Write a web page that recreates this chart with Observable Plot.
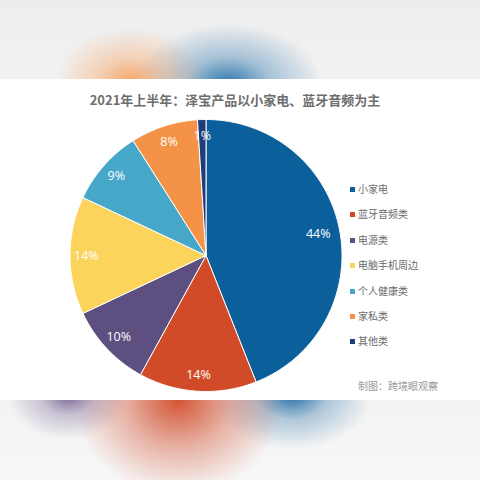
<!DOCTYPE html>
<html>
<head>
<meta charset="utf-8">
<script src="https://cdn.jsdelivr.net/npm/d3@7"></script>
<script src="https://cdn.jsdelivr.net/npm/@observablehq/plot@0.6"></script>
<style>
  html, body { margin: 0; padding: 0; }
  body { width: 480px; height: 480px; overflow: hidden; font-family: "Noto Sans CJK SC", "Noto Sans", sans-serif; }
  #wrap { position: relative; width: 480px; height: 480px; background: #f1f1f1; }
  #top { position: absolute; left: 0; top: 0; width: 480px; height: 79px;
    background:
      radial-gradient(ellipse 75px 55px at 130px 82px, rgba(246,152,80,0.85), rgba(246,152,80,0.35) 45%, rgba(246,152,80,0) 100%),
      radial-gradient(ellipse 95px 60px at 228px 84px, rgba(25,105,165,0.9), rgba(25,105,165,0.35) 45%, rgba(25,105,165,0) 100%),
      linear-gradient(#ededed, #f2f2f2);
  }
  #bottom { position: absolute; left: 0; top: 400px; width: 480px; height: 80px;
    background:
      radial-gradient(ellipse 60px 45px at 68px -5px, rgba(100,80,135,0.85), rgba(100,80,135,0.3) 45%, rgba(100,80,135,0) 100%),
      radial-gradient(ellipse 105px 95px at 178px 0px, rgba(210,76,42,0.95), rgba(210,76,42,0.4) 50%, rgba(210,76,42,0) 100%),
      radial-gradient(ellipse 80px 55px at 292px -5px, rgba(18,98,158,0.9), rgba(18,98,158,0.3) 45%, rgba(18,98,158,0) 100%),
      linear-gradient(#f3f3f3, #f7f7f7);
  }
  #card { position: absolute; left: 0; top: 79px; width: 480px; height: 321px; background: #ffffff; }
  #title { position: absolute; left: 0; top: 12px; width: 470px; text-align: center;
    font-size: 13px; font-weight: bold; color: #6e6e6e; line-height: 18px; }
  #chart { position: absolute; left: 0; top: 0; }
  #legend { position: absolute; left: 350px; top: 103px; }
  .row { position: absolute; left: 0; height: 14px; white-space: nowrap; font-size: 10px; color: #6a6a6a; line-height: 14px; }
  .sw { position: absolute; left: 0; top: 5px; width: 5px; height: 5px; }
  .lb { position: absolute; left: 8px; top: 0; }
  #caption { position: absolute; left: 358px; top: 300px; font-size: 10px; color: #9a9a9a; line-height: 14px; white-space: nowrap; }
</style>
</head>
<body>
<div id="wrap">
  <div id="top"></div>
  <div id="bottom"></div>
  <div id="card">
    <div id="chart"></div>
    <div id="title"></div>
    <div id="legend"></div>
    <div id="caption"></div>
  </div>
</div>
<script>
const titleText = "2021年上半年：泽宝产品以小家电、蓝牙音频为主";
const captionText = "制图：跨境眼观察";
const categories = ["小家电", "蓝牙音频类", "电源类", "电脑手机周边", "个人健康类", "家私类", "其他类"];
const values = [44, 14, 10, 14, 9, 8, 1];
const colors = ["#0b5f9b", "#d24b29", "#5d4f80", "#fdd45b", "#46a7c9", "#f49347", "#1f3d7a"];

document.getElementById("title").textContent = titleText;
document.getElementById("caption").textContent = captionText;

// legend
const legend = document.getElementById("legend");
categories.forEach((c, i) => {
  const row = document.createElement("div");
  row.className = "row";
  row.style.top = (i * 25.4) + "px";
  const sw = document.createElement("div");
  sw.className = "sw";
  sw.style.background = colors[i];
  const lb = document.createElement("div");
  lb.className = "lb";
  lb.textContent = c;
  row.appendChild(sw);
  row.appendChild(lb);
  legend.appendChild(row);
});

// pie geometry from values
const total = d3.sum(values);
const pie = d3.pie().sort(null).value(d => d).startAngle(0).endAngle(2 * Math.PI)(values);
const slicePts = [];
const labelPts = [];
pie.forEach((p, i) => {
  const cat = categories[i];
  slicePts.push({cat, x: 0, y: 0});
  const steps = Math.max(2, Math.ceil((p.endAngle - p.startAngle) / (Math.PI / 180)));
  for (let k = 0; k <= steps; k++) {
    const a = p.startAngle + (p.endAngle - p.startAngle) * k / steps;
    slicePts.push({cat, x: Math.sin(a), y: Math.cos(a)});
  }
  slicePts.push({cat, x: 0, y: 0});
  const m = (p.startAngle + p.endAngle) / 2;
  const r = i === 0 ? 0.84 : 0.88;
  labelPts.push({cat, x: r * Math.sin(m), y: r * Math.cos(m), text: Math.round(values[i] / total * 100) + "%"});
});

const cx = 205.5, cy = 176, R = 136;
const chart = Plot.plot({
  width: 480,
  height: 321,
  margin: 0,
  x: {domain: [-1, 1], range: [cx - R, cx + R], axis: null},
  y: {domain: [-1, 1], range: [cy + R, cy - R], axis: null},
  color: {domain: categories, range: colors},
  style: {background: "transparent", overflow: "visible"},
  marks: [
    Plot.line(slicePts, {x: "x", y: "y", z: "cat", fill: "cat", stroke: "#ffffff", strokeWidth: 1, strokeLinejoin: "round", curve: "linear"}),
    Plot.text(labelPts, {x: "x", y: "y", text: "text", fill: "#ffffff", fontSize: 12.5, fontFamily: "Open Sans, Noto Sans, sans-serif", textAnchor: "middle", lineAnchor: "middle"})
  ]
});
document.getElementById("chart").appendChild(chart);
</script>
</body>
</html>
